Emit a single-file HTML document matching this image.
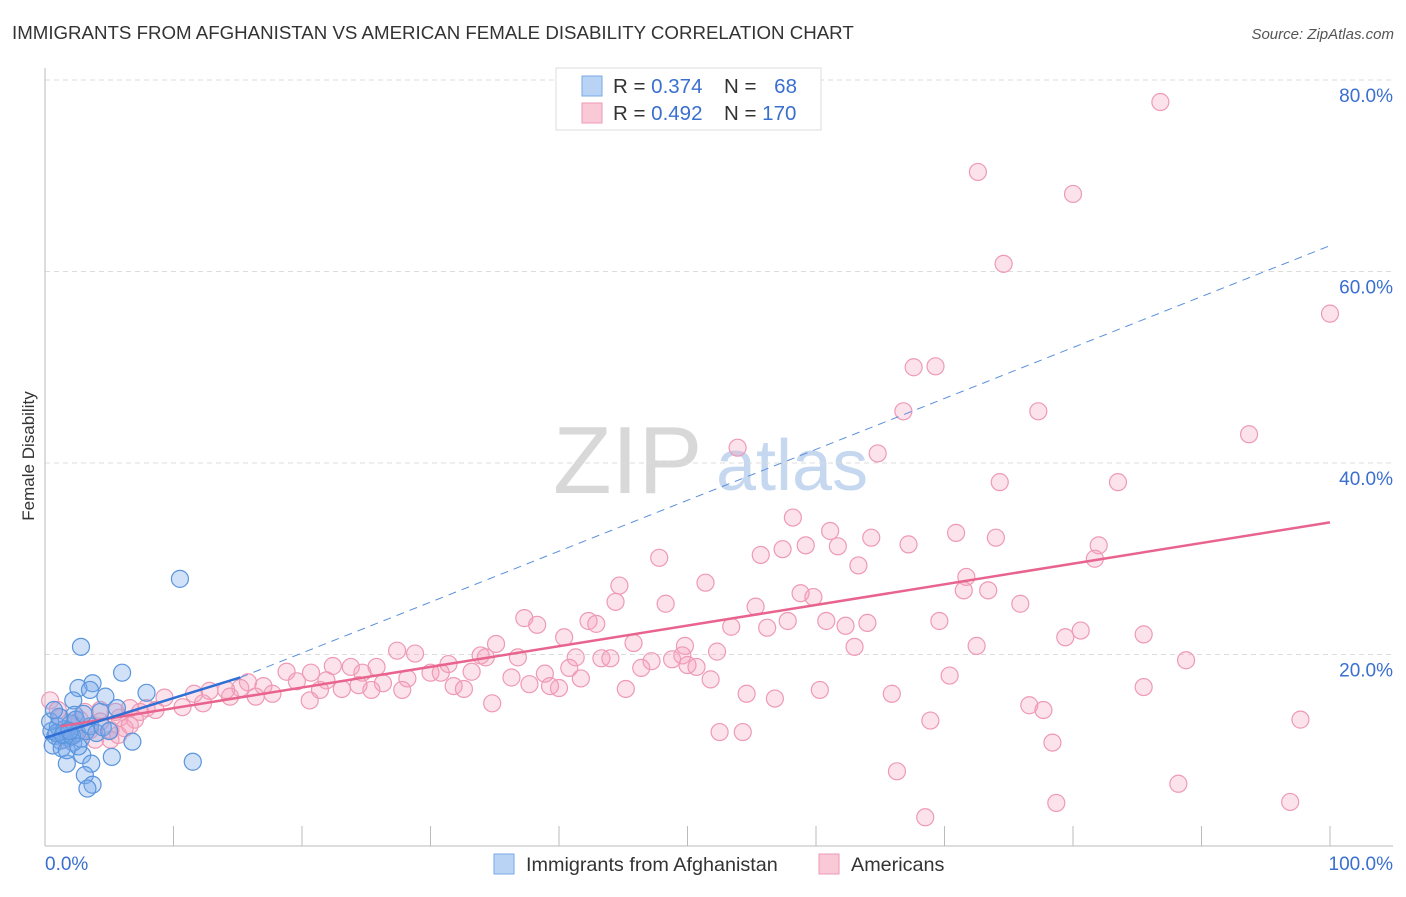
<!DOCTYPE html>
<html><head><meta charset="utf-8"><style>
body{margin:0;background:#fff;font-family:"Liberation Sans",sans-serif;}
svg text{font-family:"Liberation Sans",sans-serif;}
</style></head><body>
<svg id="c" width="1406" height="892" viewBox="0 0 1406 892">
<text x="12" y="39" font-size="18.7" fill="#333">IMMIGRANTS FROM AFGHANISTAN VS AMERICAN FEMALE DISABILITY CORRELATION CHART</text>
<text x="1394" y="39" font-size="15" fill="#555" font-style="italic" text-anchor="end">Source: ZipAtlas.com</text>
<text x="34" y="456" font-size="17" fill="#333" text-anchor="middle" transform="rotate(-90 34 456)">Female Disability</text>
<g>
<text x="553" y="493" font-size="96" fill="#d8d8d8" font-family="Liberation Serif">ZIP</text>
<text x="716" y="490" font-size="72" fill="#c5d8f0">atlas</text>
</g>
<g id="grid"></g>
<g id="axes"></g>
<g id="pts"></g>
<g id="trend"></g>
<g>
<rect x="556" y="68" width="265" height="62" fill="#fff" stroke="#ddd"/>
<rect x="582" y="76" width="20" height="20" fill="#b9d3f5" stroke="#7aaae6"/>
<rect x="582" y="103" width="20" height="20" fill="#fac9d8" stroke="#ee9ab5"/>
<text x="613" y="93" font-size="20.5" fill="#333">R = <tspan fill="#3a6fd0">0.374</tspan></text>
<text x="724" y="93" font-size="20.5" fill="#333">N = <tspan fill="#3a6fd0" dx="12">68</tspan></text>
<text x="613" y="120" font-size="20.5" fill="#333">R = <tspan fill="#3a6fd0">0.492</tspan></text>
<text x="724" y="120" font-size="20.5" fill="#333">N = <tspan fill="#3a6fd0">170</tspan></text>
</g>
<g>
<rect x="494" y="854" width="20" height="20" fill="#b9d3f5" stroke="#7aaae6"/>
<text x="526" y="871" font-size="19.8" fill="#333">Immigrants from Afghanistan</text>
<rect x="819" y="854" width="20" height="20" fill="#fac9d8" stroke="#ee9ab5"/>
<text x="851" y="871" font-size="19.8" fill="#333">Americans</text>
</g>
</svg>
<script>
const yTicks=[20,40,60,80];
const xTickCount=[0,10,20,30,40,50,60,70,80,90,100];
const blueX=[3.7,2.6,3.5,4.7,2.2,6.0,7.9,2.8,6.8,5.2,1.7,2.9,3.6,3.1,3.7,3.3,11.5,10.5,5.6,4.3,2.3,0.5,0.8,1.0,1.2,1.5,1.8,2.0,2.2,2.5,0.6,1.3,1.7,2.8,3.2,0.4,1.1,2.4,3.5,4.0,4.5,0.9,1.4,2.1,2.6,3.0,0.7,5.0,1.9];
const blueY=[17.0,16.5,16.3,15.6,15.2,18.1,16.0,20.8,10.9,9.3,8.6,9.5,8.6,7.4,6.4,6.0,8.8,27.9,14.4,14.0,13.7,12.0,11.5,12.5,11.0,12.2,11.3,12.8,10.8,11.8,10.5,10.2,10.0,11.2,12.0,13.0,13.5,13.2,12.5,11.8,12.4,11.8,11.6,11.5,10.4,13.8,14.2,12.0,12.0];
const pinkX=[86.8,72.6,80.0,74.6,100,67.6,69.3,66.8,77.3,93.7,53.9,64.8,74.3,83.5,58.2,61.1,70.9,64.3,74.0,59.2,67.2,82.0,61.7,57.4,55.7,47.8,81.7,63.3,71.7,51.4,44.7,71.5,73.4,58.8,59.8,44.4,48.3,55.3,75.9,37.3,42.3,60.8,57.8,69.6,64.0,38.3,62.3,42.9,53.4,56.2,80.6,85.5,79.4,40.4,45.8,35.1,49.8,72.5,63.0,52.3,27.4,33.9,41.3,34.3,28.8,36.8,43.3,44.0,48.8,49.6,88.8,47.2,50.0,46.4,31.4,22.4,25.8,23.8,40.8,50.7,33.2,18.8,20.7,24.7,30.0,30.8,38.9,70.4,41.7,51.8,36.3,28.2,21.9,19.6,26.3,15.8,24.4,31.8,37.7,17.0,45.2,21.4,32.6,85.5,40.0,60.3,54.6,65.9,23.1,25.4,27.8,39.3,56.8,15.2,14.1,12.8,11.6,17.7,14.4,16.4,9.3,34.8,20.6,76.6,77.7,10.7,12.3,6.6,7.9,5.5,97.7,68.9,0.4,52.5,54.3,78.4,66.3,88.2,78.7,96.9,68.5,1.2,1.9,2.7,3.5,4.3,5.1,5.8,7.0,2.3,3.9,5.1,6.2,7.4,8.6,3.1,1.0,4.3,1.6,5.7,6.6];
const pinkY=[77.7,70.4,68.1,60.8,55.6,50.0,50.1,45.4,45.4,43.0,41.6,41.0,38.0,38.0,34.3,32.9,32.7,32.2,32.2,31.4,31.5,31.4,31.3,31.0,30.4,30.1,30.0,29.3,28.1,27.5,27.2,26.7,26.7,26.4,26.0,25.5,25.3,25.0,25.3,23.8,23.5,23.5,23.5,23.5,23.3,23.1,23.0,23.2,22.9,22.8,22.5,22.1,21.8,21.8,21.2,21.1,20.9,20.9,20.8,20.3,20.4,19.9,19.7,19.7,20.1,19.7,19.6,19.6,19.5,19.9,19.4,19.3,18.9,18.6,19.0,18.8,18.7,18.7,18.6,18.7,18.2,18.2,18.1,18.1,18.1,18.1,18.0,17.8,17.5,17.4,17.6,17.5,17.3,17.2,17.0,17.1,16.8,16.7,16.9,16.7,16.4,16.3,16.4,16.6,16.5,16.3,15.9,15.9,16.4,16.3,16.3,16.7,15.4,16.5,16.3,16.2,15.9,15.9,15.6,15.6,15.5,14.9,15.2,14.7,14.2,14.5,14.9,14.4,14.4,14.0,13.2,13.1,15.2,11.9,11.9,10.8,7.8,6.5,4.5,4.6,3.0,13.4,12.6,13.2,12.1,13.0,12.1,13.4,13.2,11.6,11.1,11.1,12.3,14.0,14.2,14.0,14.2,14.2,11.1,11.6,12.6];
const blueTrend=[[0,11.3],[15.2,17.6]];
const blueDash=[[15.2,17.6],[100,62.7]];
const pinkTrend=[[1.2,12.5],[100,33.8]];
const NS='http://www.w3.org/2000/svg';
const X0=45,X1=1330,Y0=846,PPY=9.575;
const sx=v=>X0+(X1-X0)*v/100, sy=v=>Y0-v*PPY;
function mk(t,a,p){const e=document.createElementNS(NS,t);for(const k in a)e.setAttribute(k,a[k]);p.appendChild(e);return e;}
const g=document.getElementById('grid');
yTicks.forEach(t=>{
 const l=mk('line',{x1:45,x2:1393,y1:sy(t),y2:sy(t),stroke:'#dcdcdc','stroke-dasharray':'5,4'},g);
 
 
 const tx=mk('text',{x:1393,y:sy(t)+22,'font-size':19,fill:'#3a6fd0','text-anchor':'end'},g);
 tx.textContent=t.toFixed(1)+'%';
 
 
});
const a=document.getElementById('axes');
const ya=mk('line',{x1:45,x2:45,y1:68,y2:846,stroke:'#bbb'},a);


const xa=mk('line',{x1:45,x2:1393,y1:846,y2:846,stroke:'#bbb'},a);


xTickCount.forEach(t=>{
 const l=mk('line',{x1:sx(t),x2:sx(t),y1:826,y2:846,stroke:'#bbb'},a);
 
 
});
[[0,'0.0%','start',45],[100,'100.0%','end',1393]].forEach(d=>{
 const tx=mk('text',{x:d[3],y:870,'font-size':19,fill:'#3a6fd0','text-anchor':d[2]},a);
 tx.textContent=d[1];
 
 
});
const p=document.getElementById('pts');
pinkX.forEach((x,i)=>{
 const c=mk('circle',{cx:sx(x),cy:sy(pinkY[i]),r:8.5,fill:'rgba(244,160,188,0.3)',stroke:'#ee9ab5','stroke-width':1.2},p);
 
 
});
blueX.forEach((x,i)=>{
 const c=mk('circle',{cx:sx(x),cy:sy(blueY[i]),r:8.5,fill:'rgba(120,170,235,0.35)',stroke:'#5a95dd','stroke-width':1.2},p);
 
 
});
const tr=document.getElementById('trend');
const l1=mk('line',{x1:sx(pinkTrend[0][0]),y1:sy(pinkTrend[0][1]),x2:sx(pinkTrend[1][0]),y2:sy(pinkTrend[1][1]),stroke:'#e8648f','stroke-width':2.5},tr);


const l2=mk('line',{x1:sx(blueDash[0][0]),y1:sy(blueDash[0][1]),x2:sx(blueDash[1][0]),y2:sy(blueDash[1][1]),stroke:'#5a8fdc','stroke-width':1,'stroke-dasharray':'8,6'},tr);


const l3=mk('line',{x1:sx(blueTrend[0][0]),y1:sy(blueTrend[0][1]),x2:sx(blueTrend[1][0]),y2:sy(blueTrend[1][1]),stroke:'#2f6fd6','stroke-width':2.5},tr);


</script>
</body></html>
